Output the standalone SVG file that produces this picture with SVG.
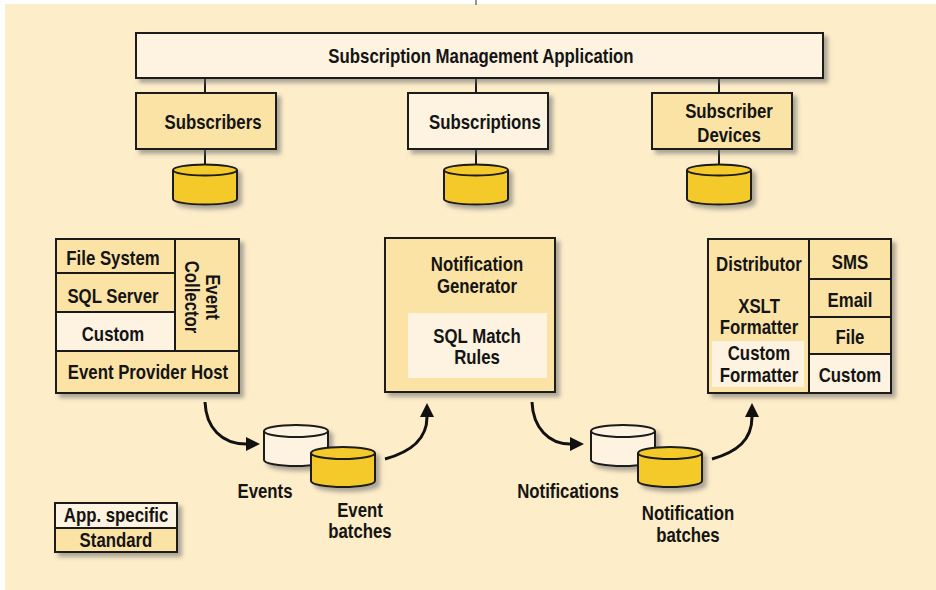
<svg xmlns="http://www.w3.org/2000/svg" width="936" height="590" viewBox="0 0 936 590">
<style>
.t{font-family:"Liberation Sans",Arial,sans-serif;font-weight:bold;font-size:20px;fill:#141414;text-anchor:middle;transform-box:fill-box;transform-origin:center;transform:scaleX(0.84)}
.std{fill:#fbe3a6;stroke:#1a1a1a;stroke-width:2}
.app{fill:#fdf3e0;stroke:#1a1a1a;stroke-width:2}
.appn{fill:#fdf3e0;stroke:none}
.ln{stroke:#1a1a1a;stroke-width:2;fill:none}
.gold{fill:#f4c92a;stroke:#1a1a1a;stroke-width:2}
.cream{fill:#fdf3e0;stroke:#1a1a1a;stroke-width:2}
.arr{stroke:#111;stroke-width:3;fill:none;marker-end:url(#ah)}
</style>
<defs>
<filter id="sh" x="-10%" y="-10%" width="130%" height="140%">
<feDropShadow dx="4" dy="4" stdDeviation="2" flood-color="#6b6b6b" flood-opacity="0.55"/>
</filter>
<marker id="ah" markerUnits="userSpaceOnUse" markerWidth="16" markerHeight="16" refX="0" refY="7" orient="auto" viewBox="0 0 16 14">
<path d="M0,0 L14,7 L0,14 z" fill="#111"/>
</marker>
</defs>
<rect x="5" y="4" width="931" height="586" fill="#fdedc9"/>
<line x1="476" y1="0" x2="476" y2="5" stroke="#333" stroke-width="1"/>

<g id="connectors">
<line class="ln" x1="205" y1="78" x2="205" y2="93"/>
<line class="ln" x1="476" y1="78" x2="476" y2="93"/>
<line class="ln" x1="719" y1="78" x2="719" y2="93"/>
<line class="ln" x1="205" y1="149" x2="205" y2="165"/>
<line class="ln" x1="476" y1="149" x2="476" y2="165"/>
<line class="ln" x1="719" y1="149" x2="719" y2="165"/>
<path class="arr" d="M205,402 C206,428 222,444 246,444"/>
<path class="arr" d="M385,459 C410,452 427,440 427,417"/>
<path class="arr" d="M532,402 C533,428 549,444 570,444"/>
<path class="arr" d="M712,459 C737,452 752,440 752,417"/>
</g>

<g id="sma">
<rect class="app" x="136" y="33" width="687" height="45" filter="url(#sh)"/>
<text class="t" x="481" y="63">Subscription Management Application</text>
</g>

<g id="subscribers">
<rect class="std" x="136" y="93" width="140" height="56" filter="url(#sh)"/>
<text class="t" x="213" y="129">Subscribers</text>
</g>
<g id="subscriptions">
<rect class="app" x="408" y="93" width="140" height="56" filter="url(#sh)"/>
<text class="t" x="485" y="129">Subscriptions</text>
</g>
<g id="devices">
<rect class="std" x="652" y="93" width="140" height="56" filter="url(#sh)"/>
<text class="t" x="729" y="118">Subscriber</text>
<text class="t" x="729" y="142">Devices</text>
</g>

<g id="db-subscribers" filter="url(#sh)">
<path class="gold" d="M173,170 V199 A32,5.5 0 0 0 237,199 V170"/>
<ellipse class="gold" cx="205" cy="170" rx="32" ry="5.5"/>
</g>
<g id="db-subscriptions" filter="url(#sh)">
<path class="gold" d="M444,170 V199 A32,5.5 0 0 0 508,199 V170"/>
<ellipse class="gold" cx="476" cy="170" rx="32" ry="5.5"/>
</g>
<g id="db-devices" filter="url(#sh)">
<path class="gold" d="M687,170 V199 A32,5.5 0 0 0 751,199 V170"/>
<ellipse class="gold" cx="719" cy="170" rx="32" ry="5.5"/>
</g>

<g id="event-provider-host">
<rect class="std" x="56" y="239" width="183" height="154" filter="url(#sh)"/>
<rect class="app" x="56" y="312" width="119" height="39"/>
<line class="ln" x1="175" y1="239" x2="175" y2="351"/>
<line class="ln" x1="56" y1="273" x2="175" y2="273"/>
<line class="ln" x1="56" y1="312" x2="175" y2="312"/>
<line class="ln" x1="56" y1="351" x2="239" y2="351"/>
<text class="t" x="113" y="265">File System</text>
<text class="t" x="113" y="303">SQL Server</text>
<text class="t" x="113" y="341">Custom</text>
<text class="t" x="148" y="379">Event Provider Host</text>
<g transform="translate(206,297) rotate(90)">
<text class="t" x="0" y="0">Event</text>
<text class="t" x="0" y="21">Collector</text>
</g>
</g>

<g id="notification-generator">
<rect class="std" x="385" y="238" width="170" height="154" filter="url(#sh)"/>
<rect class="appn" x="408" y="313" width="139" height="65"/>
<text class="t" x="477" y="271">Notification</text>
<text class="t" x="477" y="293">Generator</text>
<text class="t" x="477" y="343">SQL Match</text>
<text class="t" x="477" y="364">Rules</text>
</g>

<g id="distributor">
<rect class="std" x="708" y="239" width="183" height="154" filter="url(#sh)"/>
<rect class="appn" x="712" y="341" width="92" height="46"/>
<rect class="app" x="809" y="354" width="82" height="39"/>
<line class="ln" x1="809" y1="239" x2="809" y2="393"/>
<line class="ln" x1="809" y1="279" x2="891" y2="279"/>
<line class="ln" x1="809" y1="317" x2="891" y2="317"/>
<line class="ln" x1="809" y1="354" x2="891" y2="354"/>
<text class="t" x="759" y="271">Distributor</text>
<text class="t" x="759" y="313">XSLT</text>
<text class="t" x="759" y="334">Formatter</text>
<text class="t" x="759" y="360">Custom</text>
<text class="t" x="759" y="382">Formatter</text>
<text class="t" x="850" y="269">SMS</text>
<text class="t" x="850" y="307">Email</text>
<text class="t" x="850" y="344">File</text>
<text class="t" x="850" y="382">Custom</text>
</g>

<g id="events" filter="url(#sh)">
<path class="cream" d="M264,431 V460 A32,6 0 0 0 328,460 V431"/>
<ellipse class="cream" cx="296" cy="431" rx="32" ry="6"/>
</g>
<g id="event-batches" filter="url(#sh)">
<path class="gold" d="M311,453 V481 A32,6 0 0 0 375,481 V453"/>
<ellipse class="gold" cx="343" cy="453" rx="32" ry="6"/>
</g>
<g id="notifications" filter="url(#sh)">
<path class="cream" d="M591,431 V460 A32,6 0 0 0 655,460 V431"/>
<ellipse class="cream" cx="623" cy="431" rx="32" ry="6"/>
</g>
<g id="notification-batches" filter="url(#sh)">
<path class="gold" d="M638,453 V481 A32,6 0 0 0 702,481 V453"/>
<ellipse class="gold" cx="670" cy="453" rx="32" ry="6"/>
</g>

<g id="labels">
<text class="t" x="265" y="498">Events</text>
<text class="t" x="360" y="517">Event</text>
<text class="t" x="360" y="538">batches</text>
<text class="t" x="568" y="498">Notifications</text>
<text class="t" x="688" y="520">Notification</text>
<text class="t" x="688" y="542">batches</text>
</g>

<g id="legend">
<rect class="std" x="55" y="503" width="122" height="49" filter="url(#sh)"/>
<rect class="app" x="55" y="503" width="122" height="25"/>
<text class="t" x="116" y="522">App. specific</text>
<text class="t" x="116" y="547">Standard</text>
</g>
</svg>
